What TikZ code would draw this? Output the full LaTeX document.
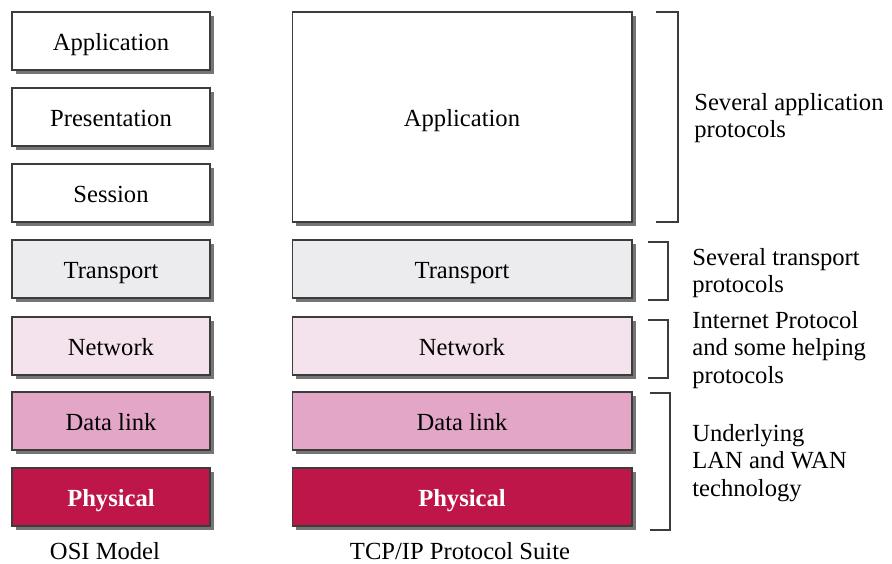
\documentclass[tikz,border=0pt]{standalone}
\usepackage{fontspec}
\setmainfont{Liberation Serif}
\usetikzlibrary{shadows}

\definecolor{transportgray}{RGB}{236,236,238}
\definecolor{networkpink}{RGB}{244,226,236}
\definecolor{datalinkpink}{RGB}{228,166,198}
\definecolor{physicalred}{RGB}{190,22,72}
\definecolor{linegray}{RGB}{60,60,60}

\begin{document}
\begin{tikzpicture}[x=0.02cm, y=-0.02cm,
    layer/.style={draw=linegray, line width=0.6pt, fill=white, inner sep=0pt,
      text height=11pt, text depth=0.5pt,
      font=\fontsize{14}{16}\selectfont,
      drop shadow={shadow xshift=0.08cm, shadow yshift=-0.08cm, fill=black!60, opacity=0.9}},
    osi/.style={layer, minimum width=3.96cm, minimum height=1.16cm},
    tcp/.style={layer, minimum width=6.8cm, minimum height=1.16cm},
    brace/.style={draw=linegray, line width=0.8pt},
    note/.style={anchor=west, align=left, inner sep=0pt, font=\fontsize{14}{15.6}\selectfont},
    caption/.style={font=\fontsize{14}{16}\selectfont}]
    \useasboundingbox (0,0) rectangle (892,564);

    % OSI model
    \node[osi] (oapp) at (111,41) {Application};
    \node[osi] (opres) at (111,117) {Presentation};
    \node[osi] (osess) at (111,193) {Session};
    \node[osi, fill=transportgray] (otrans) at (111,269) {Transport};
    \node[osi, fill=networkpink] (onet) at (111,346) {Network};
    \node[osi, fill=datalinkpink] (odata) at (111,421) {Data link};
    \node[osi, fill=physicalred, text=white, font=\fontsize{14}{16}\selectfont\bfseries] (ophys) at (111,497) {Physical};
    \node[caption] (ocap) at (105,551) {OSI Model};

    % TCP/IP suite
    \node[tcp, minimum height=4.2cm] (tapp) at (462,117) {Application};
    \node[tcp, fill=transportgray] (ttrans) at (462,269) {Transport};
    \node[tcp, fill=networkpink] (tnet) at (462,346) {Network};
    \node[tcp, fill=datalinkpink] (tdata) at (462,421) {Data link};
    \node[tcp, fill=physicalred, text=white, font=\fontsize{14}{16}\selectfont\bfseries] (tphys) at (462,497) {Physical};
    \node[caption] (tcap) at (460,551) {TCP/IP Protocol Suite};

    % brackets
    \draw[brace] (656,12) -- (678,12) -- (678,222) -- (656,222);
    \draw[brace] (648,242) -- (668,242) -- (668,300) -- (648,300);
    \draw[brace] (648,320) -- (668,320) -- (668,378) -- (648,378);
    \draw[brace] (650,393) -- (670,393) -- (670,530) -- (650,530);

    \node[note] (napp) at (694,118) {Several application\\protocols};
    \node[note] (ntrans) at (692,273) {Several transport\\protocols};
    \node[note] (nnet) at (692,350) {Internet Protocol\\and some helping\\protocols};
    \node[note] (nlink) at (692,463) {Underlying\\LAN and WAN\\technology};
\end{tikzpicture}
\end{document}
